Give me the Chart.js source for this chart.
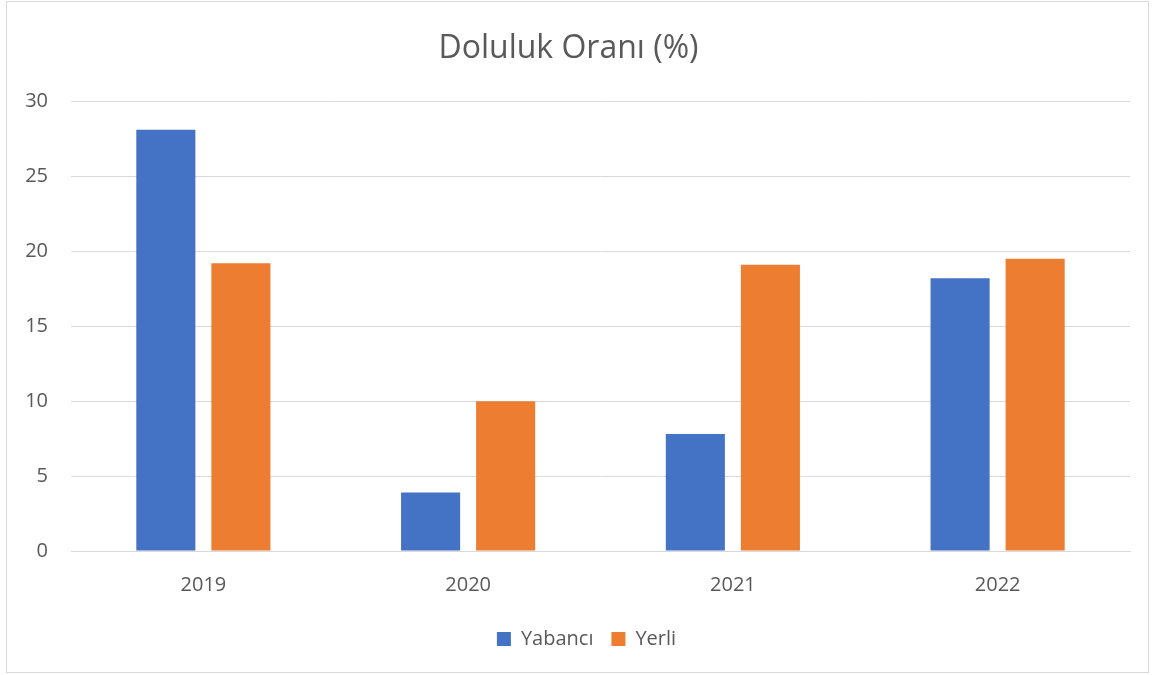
<!DOCTYPE html>
<html>
<head>
<meta charset="utf-8">
<script src="https://cdn.jsdelivr.net/npm/chart.js@4/dist/chart.umd.min.js"></script>
<style>
  html, body { margin: 0; padding: 0; background: #fff; }
  #frame {
    position: absolute; left: 6px; top: 1px;
    width: 1141px; height: 670px;
    border: 1px solid #d9d9d9;
  }
  canvas { display: block; }
</style>
</head>
<body>
<div id="frame"><canvas id="c" width="1141" height="670"></canvas></div>
<script>
  // veriler
  const years = ["2019", "2020", "2021", "2022"];
  const yabanci = [28.1, 3.9, 7.8, 18.2];
  const yerli = [19.2, 10.0, 19.1, 19.5];
  const yTicks = [0, 5, 10, 15, 20, 25, 30];

  const textColor = "#595959";
  const font = "'Open Sans', 'Noto Sans', sans-serif";

  // lejantı biraz sağa kaydır (orijinaldeki gibi)
  const legendShift = {
    id: "legendShift",
    afterLayout(chart) {
      if (!chart.legend) return;
      chart.legend.left += 18;
      chart.legend.right += 18;
    },
  };

  const ctx = document.getElementById("c").getContext("2d");
  new Chart(ctx, {
    type: "bar",
    data: {
      labels: years,
      datasets: [
        { label: "Yabancı", data: yabanci, backgroundColor: "#4472c4" },
        { label: "Yerli", data: yerli, backgroundColor: "#ed7d31" },
      ],
    },
    plugins: [legendShift],
    options: {
      responsive: false,
      animation: false,
      categoryPercentage: 0.567,
      barPercentage: 0.787,
      layout: { padding: { left: 0, right: 18, top: 0, bottom: 13 } },
      plugins: {
        title: {
          display: true,
          text: "Doluluk Oranı (%)",
          color: textColor,
          font: { family: font, size: 32, weight: "normal" },
          padding: { top: 28, bottom: 33 },
        },
        legend: {
          position: "bottom",
          labels: {
            color: textColor,
            font: { family: font, size: 20 },
            boxWidth: 14,
            boxHeight: 14,
            padding: 18,
          },
        },
        tooltip: { enabled: false },
      },
      scales: {
        x: {
          grid: { display: false },
          border: { display: true, color: "#d9d9d9" },
          ticks: { color: textColor, font: { family: font, size: 20 }, padding: 14 },
        },
        y: {
          min: 0,
          max: 30,
          afterBuildTicks: (axis) => { axis.ticks = yTicks.map((v) => ({ value: v })); },
          afterFit: (axis) => { axis.width = 64; },
          grid: { color: "#d9d9d9", drawTicks: false },
          border: { display: false },
          ticks: { color: textColor, font: { family: font, size: 20 }, padding: 23 },
        },
      },
    },
  });
</script>
</body>
</html>
